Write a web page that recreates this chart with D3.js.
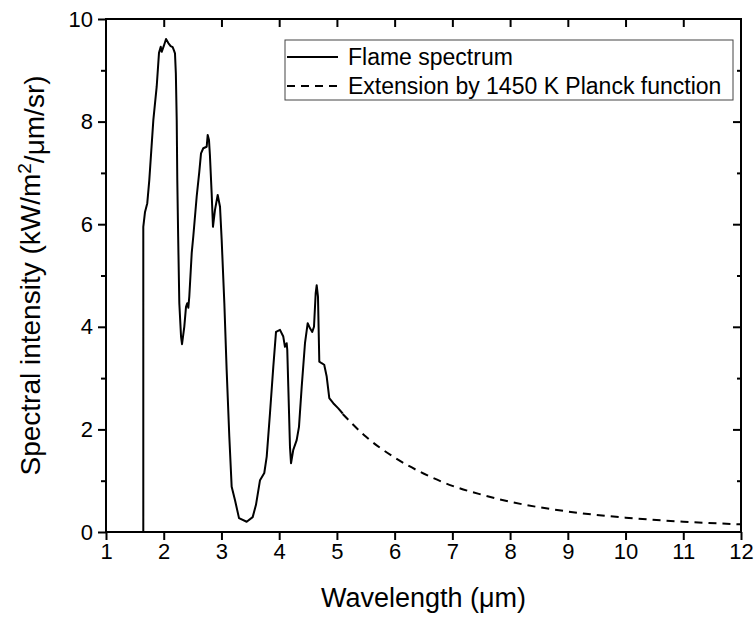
<!DOCTYPE html>
<html>
<head>
<meta charset="utf-8">
<script src="https://cdn.jsdelivr.net/npm/d3@7"></script>
<style>
  body { margin: 0; background: #fff; }
  svg text { font-family: Arial, "Liberation Sans", sans-serif; fill: #000; }
</style>
</head>
<body>
<svg id="chart" width="755" height="619"></svg>
<script>
// flame spectrum (wavelength in um, kW/m2/um/sr)
var flameWl = [1.646, 1.646, 1.676, 1.715, 1.75, 1.82, 1.878, 1.918, 1.948, 1.965, 2.0, 2.04, 2.08, 2.12, 2.155, 2.18, 2.195,
  2.21, 2.225, 2.235, 2.25, 2.27, 2.30, 2.317, 2.356, 2.386, 2.408, 2.426, 2.443, 2.485, 2.512, 2.571, 2.616, 2.646, 2.685,
  2.744, 2.762, 2.784, 2.80, 2.83, 2.853, 2.888, 2.935, 2.975, 3.004, 3.05, 3.09, 3.136, 3.177, 3.235, 3.304, 3.437, 3.541,
  3.598, 3.668, 3.742, 3.784, 3.841, 3.898, 3.945, 4.014, 4.071, 4.10, 4.13, 4.14, 4.158, 4.187, 4.205, 4.244, 4.303, 4.343,
  4.39, 4.447, 4.494, 4.534, 4.573, 4.603, 4.632, 4.65, 4.672, 4.695, 4.736, 4.78, 4.823, 4.868, 4.937, 5.024, 5.10];
var flameVal = [0, 5.95, 6.24, 6.41, 6.86, 8.03, 8.68, 9.34, 9.46, 9.36, 9.47, 9.61, 9.53, 9.47, 9.45, 9.38, 9.33,
  8.94, 8.03, 6.86, 5.76, 4.46, 3.81, 3.66, 4.00, 4.39, 4.46, 4.37, 4.59, 5.44, 5.76, 6.54, 7.02, 7.38, 7.48,
  7.51, 7.74, 7.64, 7.35, 6.61, 5.95, 6.28, 6.57, 6.34, 5.69, 4.46, 3.16, 1.86, 0.88, 0.62, 0.27, 0.20, 0.29,
  0.53, 1.01, 1.15, 1.47, 2.32, 3.22, 3.90, 3.94, 3.81, 3.61, 3.68, 3.55, 2.83, 1.66, 1.34, 1.60, 1.79, 2.05,
  2.83, 3.68, 4.07, 3.97, 3.90, 4.00, 4.65, 4.81, 4.59, 3.32, 3.29, 3.26, 3.03, 2.61, 2.51, 2.41, 2.31];

// dashed extension (1450 K Planck)
var extWl = [5.1, 5.5, 6, 6.5, 7, 7.5, 8, 9, 10, 11, 12];
var extVal = [2.30, 1.86, 1.45, 1.14, 0.90, 0.73, 0.59, 0.40, 0.28, 0.20, 0.15];

var xTicks = [1, 2, 3, 4, 5, 6, 7, 8, 9, 10, 11, 12];
var yMajor = [0, 2, 4, 6, 8, 10];
var yMinor = [1, 3, 5, 7, 9];

var legendLabels = ["Flame spectrum", "Extension by 1450 K Planck function"];

var svg = d3.select("#chart");
var margin = {top: 19, right: 14, bottom: 87, left: 106};
var W = 755, H = 619;
var w = W - margin.left - margin.right;
var h = H - margin.top - margin.bottom;

var g = svg.append("g").attr("transform", "translate(" + margin.left + "," + margin.top + ")");

var x = d3.scaleLinear().domain([1, 12]).range([0, w]);
var y = d3.scaleLinear().domain([0, 10]).range([h, 0]);

function styleAxis(sel) {
  sel.select(".domain").remove();
  sel.selectAll(".tick line").attr("stroke", "#000").attr("stroke-width", 2);
  sel.selectAll(".tick text").style("font-size", "22px").attr("fill", "#000");
}

// bottom axis
g.append("g")
  .attr("transform", "translate(0," + h + ")")
  .call(d3.axisBottom(x).tickValues(xTicks).tickSize(8).tickPadding(3).tickFormat(d3.format("d")))
  .call(styleAxis);

// top axis, ticks inward, no labels
g.append("g")
  .call(d3.axisTop(x).tickValues(xTicks.slice(1, -1)).tickSize(-8).tickFormat(""))
  .call(styleAxis);

// left axis
g.append("g")
  .call(d3.axisLeft(y).tickValues(yMajor).tickSize(8).tickPadding(5).tickFormat(d3.format("d")))
  .call(styleAxis);
g.append("g")
  .call(d3.axisLeft(y).tickValues(yMinor).tickSize(5).tickFormat(""))
  .call(styleAxis);

// right axis, ticks inward
g.append("g")
  .attr("transform", "translate(" + w + ",0)")
  .call(d3.axisRight(y).tickValues(yMajor.slice(1, -1)).tickSize(-8).tickFormat(""))
  .call(styleAxis);
g.append("g")
  .attr("transform", "translate(" + w + ",0)")
  .call(d3.axisRight(y).tickValues(yMinor).tickSize(-4).tickFormat(""))
  .call(styleAxis);

// frame
g.append("rect")
  .attr("width", w).attr("height", h)
  .attr("fill", "none").attr("stroke", "#000").attr("stroke-width", 2);

// curves
var flame = flameWl.map(function(d, i) { return [d, flameVal[i]]; });
var ext = extWl.map(function(d, i) { return [d, extVal[i]]; });

var line = d3.line().x(function(d) { return x(d[0]); }).y(function(d) { return y(d[1]); });

g.append("path")
  .attr("d", line(flame))
  .attr("fill", "none").attr("stroke", "#000").attr("stroke-width", 2)
  .attr("stroke-linejoin", "round");

g.append("path")
  .attr("d", line.curve(d3.curveMonotoneX)(ext))
  .attr("fill", "none").attr("stroke", "#000").attr("stroke-width", 2)
  .attr("stroke-dasharray", "8,6");

// legend
var lg = svg.append("g").attr("transform", "translate(285,40)");
lg.append("rect")
  .attr("width", 448).attr("height", 60)
  .attr("fill", "#fff").attr("stroke", "#444").attr("stroke-width", 1);
legendLabels.forEach(function(t, i) {
  var cy = 17 + i * 29;
  lg.append("line")
    .attr("x1", 2).attr("x2", 53).attr("y1", cy).attr("y2", cy)
    .attr("stroke", "#000").attr("stroke-width", 2)
    .attr("stroke-dasharray", i === 1 ? "8,6" : null);
  lg.append("text")
    .attr("x", 63).attr("y", cy).attr("dy", "0.35em")
    .style("font-size", "23px")
    .text(t);
});

// axis titles
svg.append("text")
  .attr("x", margin.left + w / 2).attr("y", 607)
  .attr("text-anchor", "middle")
  .style("font-size", "27px")
  .text("Wavelength (\u03bcm)");

var yt = svg.append("text")
  .attr("transform", "translate(40," + (margin.top + h / 2) + ") rotate(-90)")
  .attr("text-anchor", "middle")
  .style("font-size", "28px");
yt.append("tspan").text("Spectral intensity (kW/m");
yt.append("tspan").attr("dy", "-0.45em").style("font-size", "19px").text("2");
yt.append("tspan").attr("dy", "0.45em").text("/\u03bcm/sr)");
</script>
</body>
</html>
